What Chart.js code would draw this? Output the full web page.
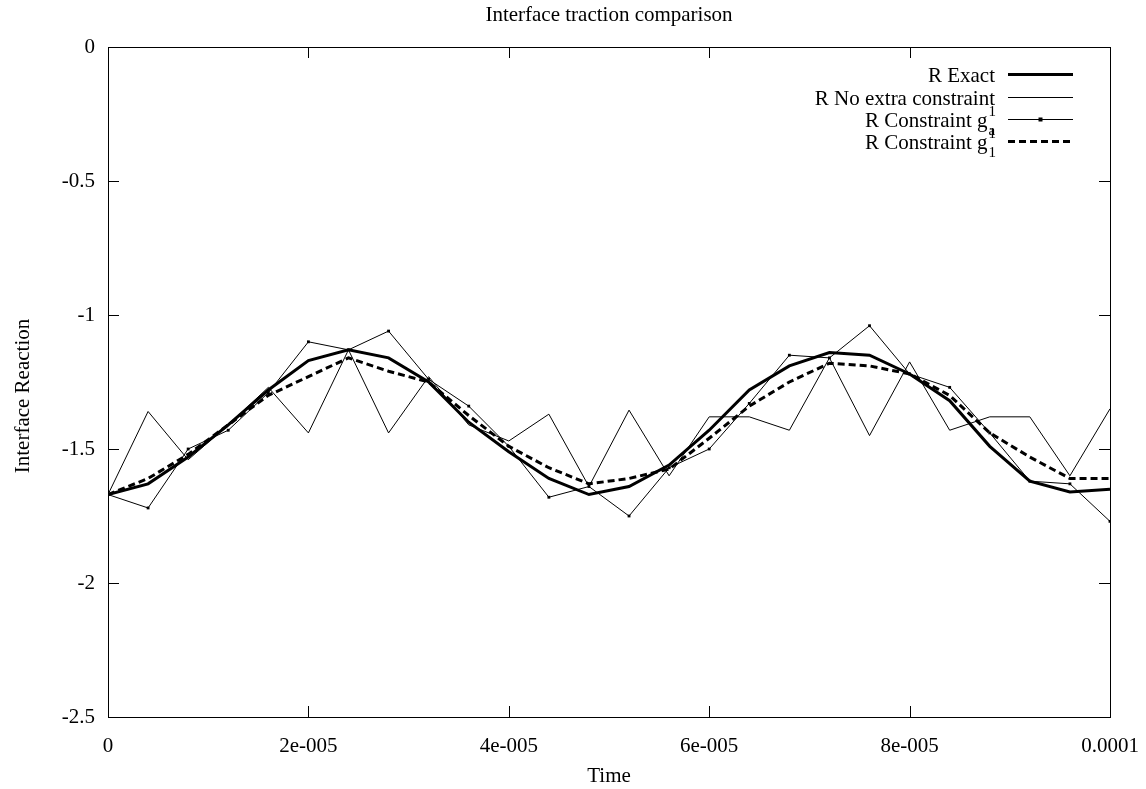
<!DOCTYPE html>
<html>
<head>
<meta charset="utf-8">
<script src="https://cdn.jsdelivr.net/npm/chart.js@4"></script>
<style>
  html, body { margin: 0; padding: 0; background: #fff; }
  canvas { display: block; }
</style>
</head>
<body>
<canvas id="chart" width="1146" height="789"></canvas>
<script>
// data
const times = [0, 4e-6, 8e-6, 1.2e-5, 1.6e-5, 2e-5, 2.4e-5, 2.8e-5, 3.2e-5, 3.6e-5,
  4e-5, 4.4e-5, 4.8e-5, 5.2e-5, 5.6e-5, 6e-5, 6.4e-5, 6.8e-5, 7.2e-5, 7.6e-5,
  8e-5, 8.4e-5, 8.8e-5, 9.2e-5, 9.6e-5, 1e-4];

const rExact = [-1.67, -1.63, -1.53, -1.41, -1.28, -1.17, -1.13, -1.16, -1.25, -1.40,
  -1.51, -1.61, -1.67, -1.64, -1.56, -1.43, -1.28, -1.19, -1.14, -1.15,
  -1.22, -1.32, -1.49, -1.62, -1.66, -1.65];

const rNoExtra = [-1.67, -1.36, -1.54, -1.41, -1.27, -1.44, -1.13, -1.44, -1.23, -1.41,
  -1.47, -1.37, -1.64, -1.355, -1.60, -1.38, -1.38, -1.43, -1.16, -1.45,
  -1.175, -1.43, -1.38, -1.38, -1.60, -1.35];

const rConstraintA = [-1.67, -1.72, -1.50, -1.43, -1.29, -1.10, -1.13, -1.06, -1.24, -1.34,
  -1.49, -1.68, -1.64, -1.75, -1.57, -1.50, -1.33, -1.15, -1.16, -1.04,
  -1.22, -1.27, -1.44, -1.62, -1.63, -1.77];

const rConstraint1 = [-1.67, -1.61, -1.52, -1.41, -1.30, -1.23, -1.16, -1.21, -1.25, -1.375,
  -1.49, -1.57, -1.63, -1.61, -1.575, -1.46, -1.34, -1.25, -1.18, -1.19,
  -1.22, -1.30, -1.44, -1.53, -1.61, -1.61];

const xTickValues = [0, 2e-5, 4e-5, 6e-5, 8e-5, 1e-4];
const xTickLabels = ["0", "2e-005", "4e-005", "6e-005", "8e-005", "0.0001"];
const yTickValues = [0, -0.5, -1, -1.5, -2, -2.5];
const yTickLabels = ["0", "-0.5", "-1", "-1.5", "-2", "-2.5"];

// legend rows: main text plus optional super/subscript
const legendRows = [
  { text: "R Exact" },
  { text: "R No extra constraint" },
  { text: "R Constraint g", sup: "1", sub: "a" },
  { text: "R Constraint g", sup: "1", sub: "1" },
];

const FONT = "'Liberation Serif', 'DejaVu Serif', serif";

function pts(ys) {
  return times.map((t, i) => ({ x: t, y: ys[i] }));
}

// frame, inward ticks, titles, key
const gnuplotLook = {
  id: "gnuplotLook",
  afterDraw(chart) {
    const ctx = chart.ctx;
    const a = chart.chartArea;
    const xs = chart.scales.x;
    const ys = chart.scales.y;
    const tl = 11;
    ctx.save();
    ctx.strokeStyle = "#000";
    ctx.lineWidth = 1;
    ctx.setLineDash([]);

    // ticks on all four sides
    ctx.beginPath();
    xTickValues.forEach((v) => {
      const px = Math.round(xs.getPixelForValue(v)) + 0.5;
      ctx.moveTo(px, a.bottom);
      ctx.lineTo(px, a.bottom - tl);
      ctx.moveTo(px, a.top);
      ctx.lineTo(px, a.top + tl);
    });
    yTickValues.forEach((v) => {
      const py = Math.round(ys.getPixelForValue(v)) + 0.5;
      ctx.moveTo(a.left, py);
      ctx.lineTo(a.left + tl, py);
      ctx.moveTo(a.right, py);
      ctx.lineTo(a.right - tl, py);
    });
    ctx.stroke();

    // frame
    ctx.strokeRect(Math.round(a.left) + 0.5, Math.round(a.top) + 0.5,
      Math.round(a.right - a.left), Math.round(a.bottom - a.top));

    // titles
    ctx.fillStyle = "#000";
    ctx.font = "21px " + FONT;
    ctx.textAlign = "center";
    ctx.textBaseline = "alphabetic";
    const cx = (a.left + a.right) / 2;
    ctx.fillText("Interface traction comparison", cx, 21);
    ctx.fillText("Time", cx, 782);
    ctx.save();
    ctx.translate(29, 396);
    ctx.rotate(-Math.PI / 2);
    ctx.fillText("Interface Reaction", 0, 0);
    ctx.restore();

    // key, top right
    const textRight = 995;
    const lineX0 = 1008, lineX1 = 1073;
    const rowY = [74, 97, 119, 141];
    chart.data.datasets.forEach((ds, i) => {
      const row = legendRows[i];
      const base = rowY[i] + 8;
      ctx.textAlign = "left";
      ctx.font = "21px " + FONT;
      let scriptW = 0;
      if (row.sup || row.sub) {
        ctx.font = "15px " + FONT;
        scriptW = Math.max(ctx.measureText(row.sup || "").width, ctx.measureText(row.sub || "").width);
        ctx.font = "21px " + FONT;
      }
      const w = ctx.measureText(row.text).width;
      const x0 = textRight - scriptW - w;
      ctx.fillText(row.text, x0, base);
      if (row.sup || row.sub) {
        ctx.font = "15px " + FONT;
        ctx.fillText(row.sup, x0 + w + 1, base - 11);
        ctx.fillText(row.sub, x0 + w + 1, base + 8);
      }
      // sample line
      ctx.strokeStyle = ds.borderColor;
      ctx.lineWidth = ds.borderWidth;
      ctx.setLineDash(ds.borderDash || []);
      ctx.beginPath();
      ctx.moveTo(lineX0, rowY[i] + 0.5);
      ctx.lineTo(lineX1, rowY[i] + 0.5);
      ctx.stroke();
      ctx.setLineDash([]);
      if (ds.pointRadius > 0) {
        const mx = (lineX0 + lineX1) / 2;
        ctx.fillStyle = ds.pointBackgroundColor;
        ctx.fillRect(mx - 2, rowY[i] - 1.5, 4, 4);
        ctx.fillStyle = "#000";
      }
    });
    ctx.restore();
  },
};

const ctx = document.getElementById("chart").getContext("2d");
const chart = new Chart(ctx, {
  type: "line",
  data: {
    datasets: [
      {
        label: "R Exact",
        data: pts(rExact),
        borderColor: "#000",
        borderWidth: 3,
        pointRadius: 0,
      },
      {
        label: "R No extra constraint",
        data: pts(rNoExtra),
        borderColor: "#000",
        borderWidth: 1,
        pointRadius: 0,
      },
      {
        label: "R Constraint g_a1",
        data: pts(rConstraintA),
        borderColor: "#000",
        borderWidth: 1,
        pointRadius: 2,
        pointStyle: "rect",
        pointBackgroundColor: "#000",
        pointBorderColor: "#000",
        pointBorderWidth: 0,
      },
      {
        label: "R Constraint g_1",
        data: pts(rConstraint1),
        borderColor: "#000",
        borderWidth: 3,
        borderDash: [7, 4],
        pointRadius: 0,
      },
    ],
  },
  options: {
    responsive: false,
    animation: false,
    layout: { padding: { left: 0, right: 36, top: 47, bottom: 0 } },
    elements: { line: { tension: 0, fill: false } },
    plugins: {
      legend: { display: false },
      title: { display: false },
      tooltip: { enabled: false },
    },
    scales: {
      x: {
        type: "linear",
        min: 0,
        max: 1e-4,
        grid: { display: false, drawTicks: false, tickLength: 0 },
        border: { display: false },
        afterBuildTicks: (scale) => {
          scale.ticks = xTickValues.map((v) => ({ value: v }));
        },
        afterFit: (scale) => {
          scale.height = 72;
          scale.paddingLeft = 0;
          scale.paddingRight = 0;
        },
        ticks: {
          autoSkip: false,
          maxRotation: 0,
          padding: 17,
          color: "#000",
          font: { family: FONT, size: 21 },
          callback: (value, index) => xTickLabels[index],
        },
      },
      y: {
        type: "linear",
        min: -2.5,
        max: 0,
        grid: { display: false, drawTicks: false, tickLength: 0 },
        border: { display: false },
        afterBuildTicks: (scale) => {
          scale.ticks = yTickValues.map((v) => ({ value: v }));
        },
        afterFit: (scale) => {
          scale.width = 108;
          scale.paddingTop = 0;
          scale.paddingBottom = 0;
        },
        ticks: {
          padding: 13,
          color: "#000",
          font: { family: FONT, size: 21 },
          callback: (value, index) => yTickLabels[index],
        },
      },
    },
  },
  plugins: [gnuplotLook],
});
</script>
</body>
</html>
